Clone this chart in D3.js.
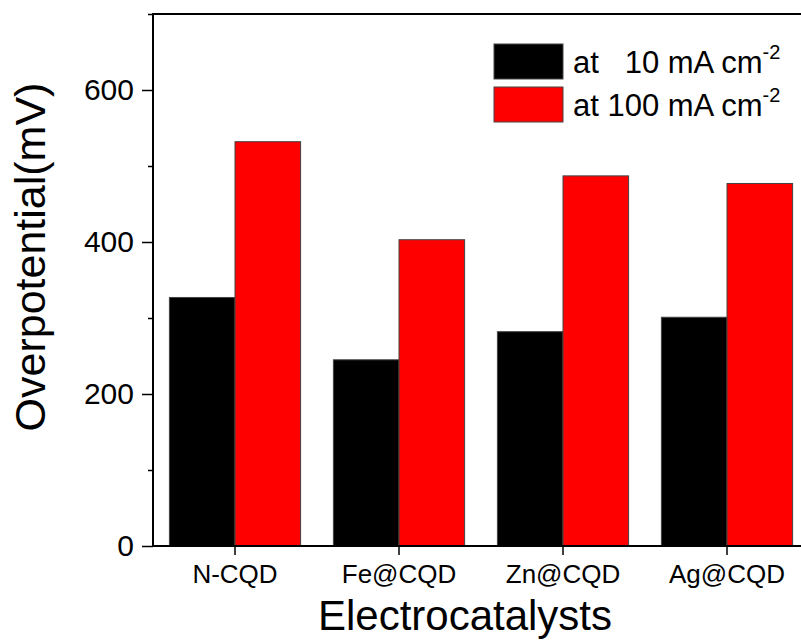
<!DOCTYPE html>
<html>
<head>
<meta charset="utf-8">
<script src="https://cdn.jsdelivr.net/npm/d3@7/dist/d3.min.js"></script>
<style>
  html, body { margin: 0; padding: 0; background: #fff; }
  svg { display: block; font-family: "Liberation Sans", Arial, sans-serif; }
</style>
</head>
<body>
<svg id="chart" width="801" height="642"></svg>
<script>
// Overpotential of each electrocatalyst at two current densities
const categories = ["N-CQD", "Fe@CQD", "Zn@CQD", "Ag@CQD"];
const seriesNames = ["at   10 mA cm", "at 100 mA cm"];
const seriesColors = ["#000000", "#ff0000"];
const at10 = [327, 245, 282, 301];
const at100 = [532, 403, 487, 477];
const yTicks = [0, 200, 400, 600];
const yMinorTicks = [100, 300, 500, 700];

const svg = d3.select("#chart");
const W = 801, H = 642;
const plotLeft = 153, plotRight = 809, plotTop = 14, plotBottom = 546;

const x = d3.scaleBand().domain(categories).range([plotLeft, plotRight])
  .paddingInner(0.2).paddingOuter(0.1);
const sub = d3.scaleBand().domain([0, 1]).range([0, x.bandwidth()]);
const y = d3.scaleLinear().domain([0, 700]).range([plotBottom, plotTop]);

const rows = categories.map((c, i) => ({ c, v: [at10[i], at100[i]] }));

// bars
const g = svg.append("g");
rows.forEach(r => {
  r.v.forEach((v, k) => {
    g.append("rect")
      .attr("x", x(r.c) + sub(k))
      .attr("y", y(v))
      .attr("width", sub.bandwidth())
      .attr("height", y(0) - y(v))
      .attr("fill", seriesColors[k])
      .attr("stroke", "#444")
      .attr("stroke-width", 1);
  });
});

// y axis
const yAxis = svg.append("g").attr("transform", `translate(${plotLeft},0)`)
  .call(d3.axisLeft(y).tickValues(yTicks).tickSize(11).tickPadding(8).tickFormat(d3.format("d")));
yAxis.select(".domain").remove();
yAxis.selectAll(".tick line").attr("stroke", "#000").attr("stroke-width", 1.5);
yAxis.selectAll(".tick text").attr("font-size", 30).attr("fill", "#000")
  .attr("font-family", "Liberation Sans, Arial, sans-serif");
svg.append("g").attr("transform", `translate(${plotLeft},0)`)
  .call(d3.axisLeft(y).tickValues(yMinorTicks).tickSize(5).tickFormat(""))
  .call(s => s.select(".domain").remove())
  .selectAll(".tick line").attr("stroke", "#000").attr("stroke-width", 1.5);

// x axis
const xAxis = svg.append("g").attr("transform", `translate(0,${plotBottom})`)
  .call(d3.axisBottom(x).tickSize(9).tickPadding(10));
xAxis.select(".domain").remove();
xAxis.selectAll(".tick line").attr("stroke", "#000").attr("stroke-width", 1.5);
xAxis.selectAll(".tick text").attr("font-size", 26).attr("fill", "#000")
  .attr("font-family", "Liberation Sans, Arial, sans-serif");

// frame lines
svg.append("line").attr("x1", plotLeft).attr("x2", W).attr("y1", plotBottom).attr("y2", plotBottom)
  .attr("stroke", "#000").attr("stroke-width", 2);
svg.append("line").attr("x1", plotLeft).attr("x2", W).attr("y1", plotTop).attr("y2", plotTop)
  .attr("stroke", "#000").attr("stroke-width", 2);
svg.append("line").attr("x1", plotLeft).attr("x2", plotLeft).attr("y1", plotTop - 1).attr("y2", plotBottom + 1)
  .attr("stroke", "#000").attr("stroke-width", 2);

// axis titles
svg.append("text").attr("x", 465).attr("y", 630).attr("text-anchor", "middle")
  .attr("font-size", 42).attr("fill", "#000").text("Electrocatalysts");
svg.append("text").attr("transform", "translate(45,257) rotate(-90)")
  .attr("text-anchor", "middle").attr("font-size", 43).attr("fill", "#000")
  .text("Overpotential(mV)");

// legend
const leg = svg.append("g");
seriesNames.forEach((name, k) => {
  const yy = 44 + k * 43;
  leg.append("rect").attr("x", 494).attr("y", yy).attr("width", 69).attr("height", 35)
    .attr("fill", seriesColors[k]).attr("stroke", "#444").attr("stroke-width", 1);
  const t = leg.append("text").attr("x", 573).attr("y", yy + 29)
    .attr("font-size", 31).attr("fill", "#000").style("white-space", "pre");
  t.append("tspan").text(name);
  t.append("tspan").attr("font-size", 20).attr("dy", -14).text("-2");
});
</script>
</body>
</html>
